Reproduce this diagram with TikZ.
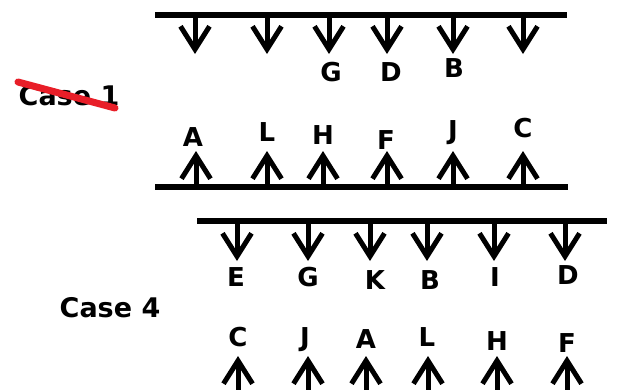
\documentclass[tikz,border=0pt]{standalone}
\usepackage{fontspec}
\setmainfont{DejaVu Sans}
\usetikzlibrary{arrows.meta}
\definecolor{strikered}{RGB}{232,30,40}
\tikzset{
  bar/.style={line width=5.5pt},
  arr/.style={line width=5pt,-{Straight Barb[length=23pt,width=29pt]}},
  lbl/.style={font=\bfseries\fontsize{26}{26}\selectfont, inner sep=0pt},
  casetxt/.style={font=\bfseries\fontsize{27}{27}\selectfont, inner sep=0pt},
  strike/.style={strikered, line width=7pt, line cap=round}
}
\begin{document}
\begin{tikzpicture}[x=1pt,y=1pt]
\useasboundingbox (0,0) rectangle (617,-389);
% ---- Case 1 upper bar ----
\coordinate (b1l) at (155,-15);
\coordinate (b1r) at (567,-15);
\draw[bar] (b1l) -- (b1r);
\foreach \x [count=\i] in {195,267,329,387,453,523}{
  \coordinate (d1s\i) at (\x,-15);
  \coordinate (d1e\i) at (\x,-54);
  \draw[arr] (d1s\i) -- (d1e\i);
}
\node[lbl] (g1) at (331,-72) {G};
\node[lbl] (dd1) at (391,-72) {D};
\node[lbl] (bb1) at (454,-68) {B};
% Case 1 text
\node[casetxt] (case1) at (69,-96) {Case 1};
\coordinate (s1) at (18,-82);
\coordinate (s2) at (115,-108);
\draw[strike] (s1) -- (s2);
% ---- Case 1 lower bar ----
\coordinate (b2l) at (155,-187);
\coordinate (b2r) at (568,-187);
\draw[bar] (b2l) -- (b2r);
\foreach \x [count=\i] in {196,267,323,387,453,523}{
  \coordinate (u1s\i) at (\x,-187);
  \coordinate (u1e\i) at (\x,-151);
  \draw[arr] (u1s\i) -- (u1e\i);
}
\node[lbl] (a1) at (193,-137) {A};
\node[lbl] (l1) at (267,-132) {L};
\node[lbl] (h1) at (323,-135) {H};
\node[lbl] (f1) at (386,-140) {F};
\node[lbl] (j1) at (453,-133) {J};
\node[lbl] (c1) at (523,-128) {C};
% ---- Case 4 upper bar ----
\coordinate (b3l) at (197,-221);
\coordinate (b3r) at (607,-221);
\draw[bar] (b3l) -- (b3r);
\foreach \x [count=\i] in {237,308,370,427,494,565}{
  \coordinate (d4s\i) at (\x,-221);
  \coordinate (d4e\i) at (\x,-261);
  \draw[arr] (d4s\i) -- (d4e\i);
}
\node[lbl] (e4) at (236,-277) {E};
\node[lbl] (g4) at (308,-277) {G};
\node[lbl] (k4) at (375,-280) {K};
\node[lbl] (b4) at (430,-280) {B};
\node[lbl] (i4) at (495,-277) {I};
\node[lbl] (d4) at (568,-275) {D};
% Case 4 text
\node[casetxt] (case4) at (110,-308) {Case 4};
% ---- Case 4 lower arrows ----
\foreach \x [count=\i] in {238,308,366,428,497,567}{
  \coordinate (u4s\i) at (\x,-392);
  \coordinate (u4e\i) at (\x,-356);
  \draw[arr] (u4s\i) -- (u4e\i);
}
\node[lbl] (c4) at (238,-337) {C};
\node[lbl] (j4) at (305,-340) {J};
\node[lbl] (a4) at (366,-339) {A};
\node[lbl] (l4) at (427,-337) {L};
\node[lbl] (h4) at (497,-341) {H};
\node[lbl] (f4) at (567,-343) {F};
\end{tikzpicture}
\end{document}
